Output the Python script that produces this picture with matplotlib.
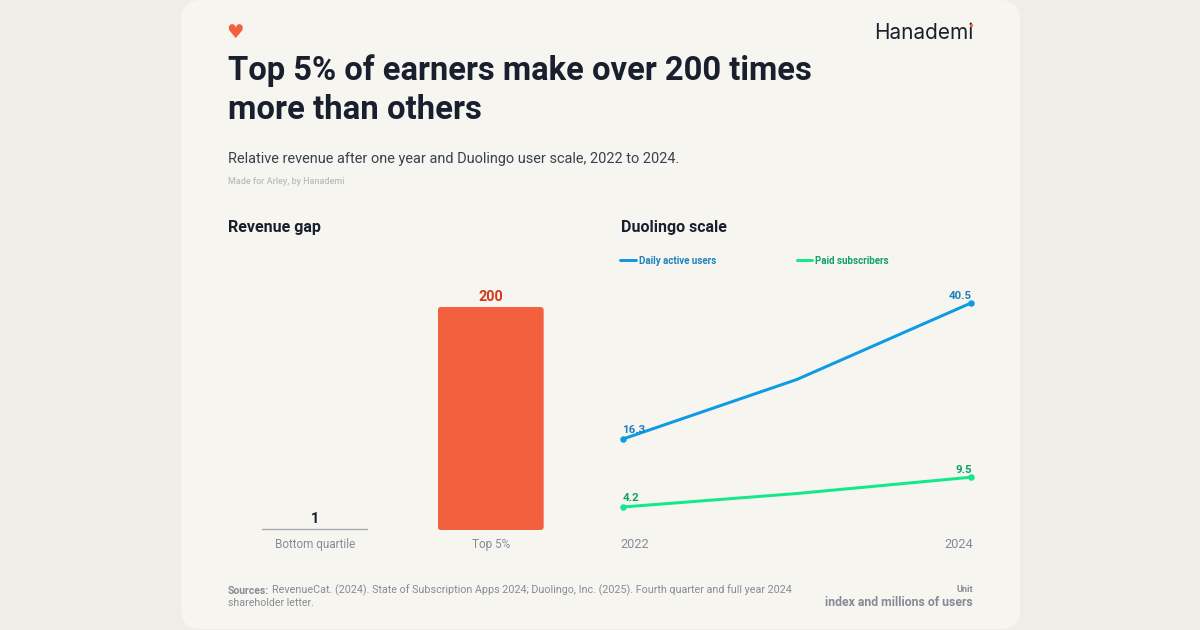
import matplotlib
matplotlib.use("Agg")
import matplotlib.pyplot as plt
from matplotlib.patches import FancyBboxPatch
from matplotlib.transforms import ScaledTranslation

W, H = 1200, 630
FONT = "Roboto"
plt.rcParams["font.family"] = [FONT, "DejaVu Sans"]

# ---- data ----
bar_categories = ["Bottom quartile", "Top 5%"]
bar_values = [1, 200]
years = [2022, 2023, 2024]
dau = [16.3, 26.9, 40.5]
paid = [4.2, 6.6, 9.5]
dau_label = "Daily active users"
paid_label = "Paid subscribers"
year_ticks = [2022, 2024]

# ---- colours ----
OUTER = "#eeede8"; CARD = "#f6f5f0"; INK = "#1a1f2e"; SUB = "#3a404e"
FAINT = "#b9bcc1"; MUTED = "#868b96"; RED = "#f2603d"; RED_TXT = "#d2391e"
GREY_BAR = "#a9adb3"; BLUE = "#0f9be3"; BLUE_TXT = "#1f82bd"
GREEN = "#14e88a"; GREEN_TXT = "#0fa365"

def pt(px):
    return px * 72 / 100

def box(x0, y_top, x1, y_bottom):
    return [x0 / W, 1 - y_bottom / H, (x1 - x0) / W, (y_bottom - y_top) / H]

fig = plt.figure(figsize=(W / 100, H / 100), dpi=100, facecolor=OUTER)
renderer = fig.canvas.get_renderer()

bg = fig.add_axes([0, 0, 1, 1], zorder=0)
bg.set_xlim(0, W); bg.set_ylim(H, 0); bg.axis("off")
bg.add_patch(FancyBboxPatch((181, 0), 839, 629, boxstyle="round,pad=0,rounding_size=20",
                            fc=CARD, ec="none", mutation_aspect=1))

def T(x, y, s, width, color=INK, weight="normal", ha="left", family=None):
    """Text scaled so its drawn width matches the reference width in pixels."""
    t = bg.text(x, y, s, fontsize=10, color=color, fontweight=weight, ha=ha, va="baseline",
                family=family or [FONT, "DejaVu Sans"])
    w = t.get_window_extent(renderer).width
    t.set_fontsize(10 * width / w)
    return t

# header
T(235.5, 37.5, "\u2665", 17.5, RED, ha="center", family=["DejaVu Sans"])
T(228, 80, "Top 5% of earners make over 200 times", 585.5, INK, "bold")
T(228, 119, "more than others", 254, INK, "bold")
T(228, 163, "Relative revenue after one year and Duolingo user scale, 2022 to 2024.", 451, SUB)
T(228, 184, "Made for Arley, by Hanademi", 116, FAINT, "medium")
T(973.5, 39, "Hanademi", 100, INK, ha="right", family=["Inter", "DejaVu Sans"])
bg.plot([971.3], [24.8], marker="o", ms=pt(3.2), color=RED, mew=0, zorder=6)

# panel titles
T(228, 232, "Revenue gap", 93, INK, "bold")
T(621, 232, "Duolingo scale", 106, INK, "bold")

# ---- bars ----
ax = fig.add_axes(box(227.5, 307, 578.5, 530), zorder=2)
ax.patch.set_alpha(0)
ax.set_xlim(-0.5, 1.5); ax.set_ylim(0, 200)
for s in ax.spines.values():
    s.set_visible(False)
ax.yaxis.set_visible(False)
xpos = list(range(len(bar_categories)))
bars = ax.bar(xpos, bar_values, width=0.603, color=[GREY_BAR, RED], clip_on=False)
bars[0].set_edgecolor(GREY_BAR); bars[0].set_linewidth(0.3)
# rounded corners on the tall bar, from the bar's own geometry
r = bars[1]
clip = FancyBboxPatch((r.get_x(), r.get_y()), r.get_width(), r.get_height(),
                      boxstyle="round,pad=0,rounding_size=0.017",
                      mutation_aspect=(200 / 223) / (2 / 351), transform=ax.transData,
                      fc="none", ec="none", clip_on=False)
ax.add_patch(clip)
r.set_clip_on(True)
r.set_clip_path(clip)
ax.set_xticks(xpos, bar_categories, fontsize=pt(11.8), color=MUTED)
ax.tick_params(axis="x", length=0, pad=5.5)
vcols = [INK, RED_TXT]
for x, v, c in zip(xpos, bar_values, vcols):
    ax.annotate(str(v), (x, v), xytext=(0, 2.4), textcoords="offset points", ha="center",
                va="bottom", fontsize=pt(14.5), fontweight="bold", color=c, annotation_clip=False)

# ---- lines ----
lx = fig.add_axes(box(623, 303, 971, 530.6), zorder=2)
lx.patch.set_alpha(0)
lx.set_xlim(2022, 2024); lx.set_ylim(0, 40.5)
for s in lx.spines.values():
    s.set_visible(False)
lx.yaxis.set_visible(False)
for vals, col, lab in [(dau, BLUE, dau_label), (paid, GREEN, paid_label)]:
    lx.plot(years, vals, color=col, lw=pt(3), label=lab, clip_on=False, solid_capstyle="round")
    lx.plot([years[0], years[-1]], [vals[0], vals[-1]], ls="none", marker="o", ms=pt(6.5),
            color=col, mew=0, clip_on=False)
lx.set_xticks(year_ticks, [str(y) for y in year_ticks], fontsize=pt(12.8), color=MUTED)
lx.tick_params(axis="x", length=0, pad=5)
tl = lx.get_xticklabels()
tl[0].set_ha("left"); tl[1].set_ha("right")
tl[0].set_transform(tl[0].get_transform() + ScaledTranslation(-2.5 / 100, 0, fig.dpi_scale_trans))
tl[1].set_transform(tl[1].get_transform() + ScaledTranslation(2.5 / 100, 0, fig.dpi_scale_trans))

for vals, col in [(dau, BLUE_TXT), (paid, GREEN_TXT)]:
    lx.annotate(f"{vals[0]}", (years[0], vals[0]), xytext=(-0.5, 2.8), textcoords="offset points",
                ha="left", va="bottom", fontsize=pt(11.5), fontweight="bold", color=col)
    lx.annotate(f"{vals[-1]}", (years[-1], vals[-1]), xytext=(0.7, 1.6), textcoords="offset points",
                ha="right", va="bottom", fontsize=pt(11.5), fontweight="bold", color=col,
                annotation_clip=False)

leg = lx.legend(loc="lower left", bbox_to_anchor=(620 / W, 1 - 265.5 / H),
                bbox_transform=fig.transFigure, ncols=2, frameon=False, borderpad=0,
                borderaxespad=0, handlelength=1.6, handletextpad=0.3, columnspacing=8.25,
                prop={"family": FONT, "size": pt(9.8), "weight": "bold"},
                labelcolor=[BLUE_TXT, GREEN_TXT])

# ---- footer ----
T(228, 593.5, "Sources:", 41, MUTED, "bold")
T(272, 593.5, "RevenueCat. (2024). State of Subscription Apps 2024; Duolingo, Inc. (2025). Fourth quarter and full year 2024", 517.5, MUTED)
T(228, 606, "shareholder letter.", 86, MUTED)
T(973, 592.5, "Unit", 16.5, MUTED, "bold", ha="right")
T(973, 606, "index and millions of users", 149, MUTED, "bold", ha="right")

fig.savefig("out.png", dpi=100, facecolor=OUTER)
